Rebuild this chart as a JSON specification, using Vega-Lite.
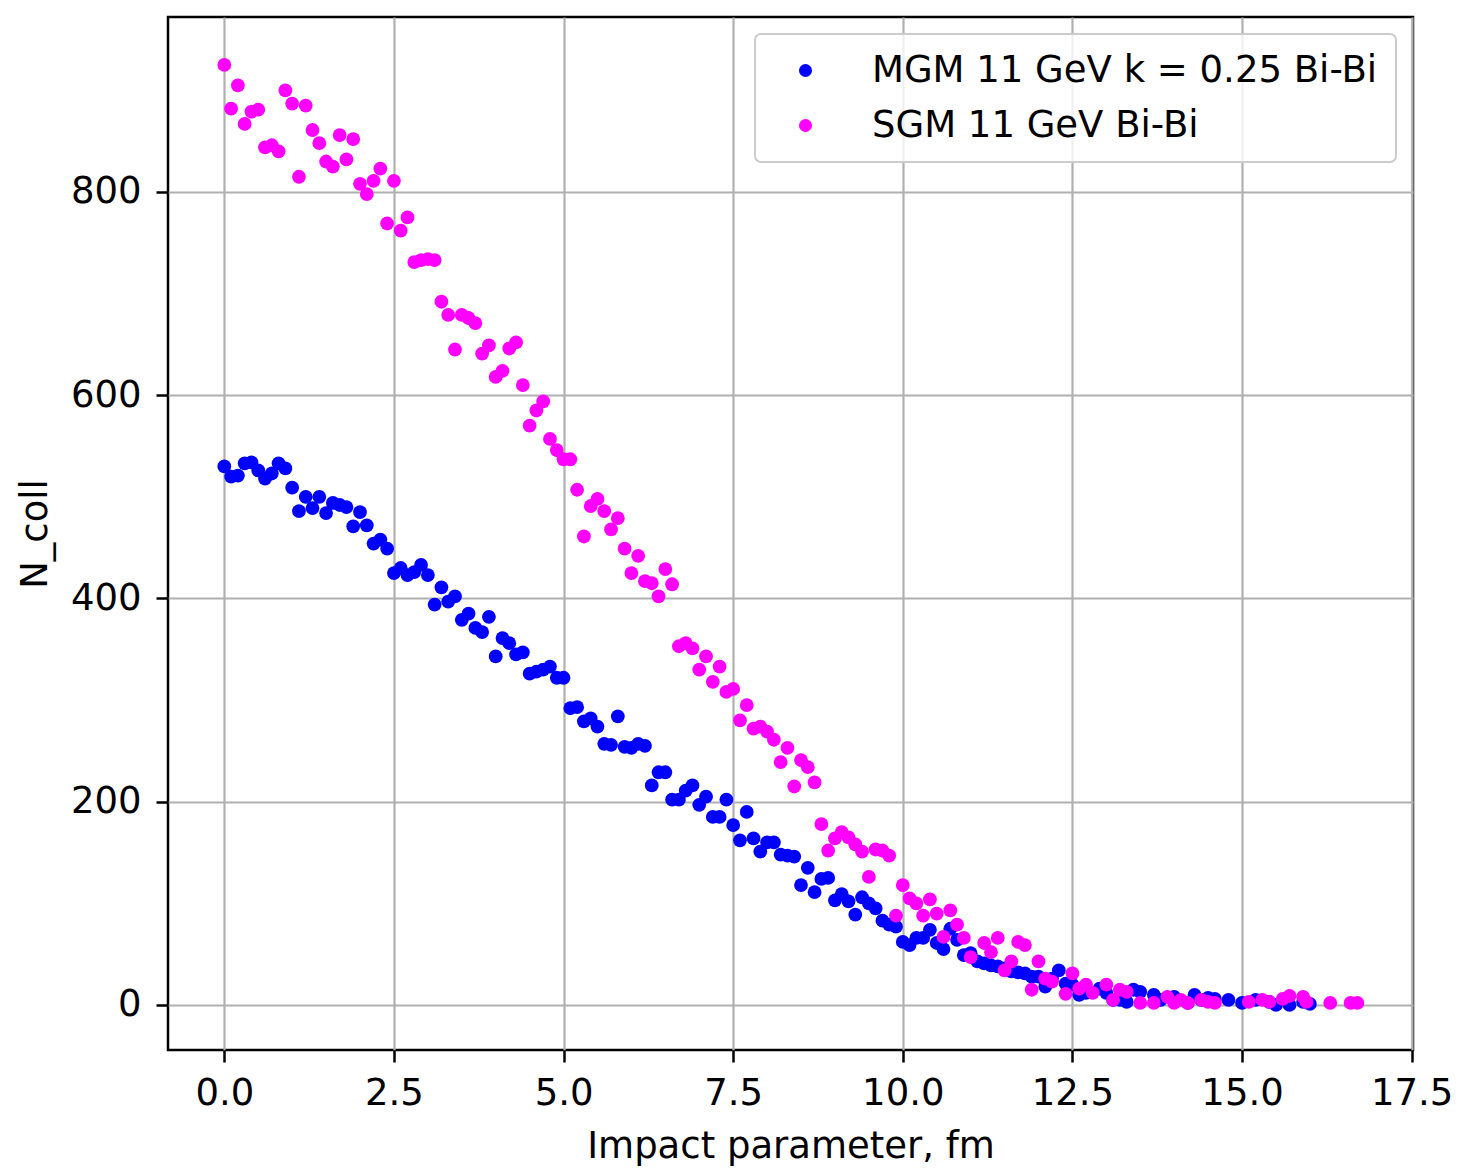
{
  "$schema": "https://vega.github.io/schema/vega-lite/v6.json",
  "width": 1245,
  "height": 1033,
  "autosize": {"type": "none"},
  "padding": {"left": 168, "top": 17, "right": 50, "bottom": 122},
  "background": "white",
  "datasets": {
    "mgm": [
      {"b":0.0,"n":530},{"b":0.1,"n":520},{"b":0.2,"n":521},{"b":0.3,"n":533},{"b":0.4,"n":534},{"b":0.5,"n":526},{"b":0.6,"n":518},{"b":0.7,"n":523},{"b":0.8,"n":533},{"b":0.9,"n":528},
      {"b":1.0,"n":509},{"b":1.1,"n":486},{"b":1.2,"n":500},{"b":1.3,"n":489},{"b":1.4,"n":500},{"b":1.5,"n":484},{"b":1.6,"n":494},{"b":1.7,"n":492},{"b":1.8,"n":490},{"b":1.9,"n":471},
      {"b":2.0,"n":485},{"b":2.1,"n":472},{"b":2.2,"n":454},{"b":2.3,"n":458},{"b":2.4,"n":449},{"b":2.5,"n":425},{"b":2.6,"n":430},{"b":2.7,"n":423},{"b":2.8,"n":426},{"b":2.9,"n":433},
      {"b":3.0,"n":423},{"b":3.1,"n":394},{"b":3.2,"n":411},{"b":3.3,"n":397},{"b":3.4,"n":402},{"b":3.5,"n":379},{"b":3.6,"n":385},{"b":3.7,"n":371},{"b":3.8,"n":367},{"b":3.9,"n":382},
      {"b":4.0,"n":343},{"b":4.1,"n":361},{"b":4.2,"n":356},{"b":4.3,"n":345},{"b":4.4,"n":347},{"b":4.5,"n":326},{"b":4.6,"n":328},{"b":4.7,"n":330},{"b":4.8,"n":333},{"b":4.9,"n":322},
      {"b":5.0,"n":322},{"b":5.1,"n":292},{"b":5.2,"n":293},{"b":5.3,"n":279},{"b":5.4,"n":282},{"b":5.5,"n":274},{"b":5.6,"n":257},{"b":5.7,"n":256},{"b":5.8,"n":284},{"b":5.9,"n":254},
      {"b":6.0,"n":253},{"b":6.1,"n":257},{"b":6.2,"n":255},{"b":6.3,"n":216},{"b":6.4,"n":229},{"b":6.5,"n":229},{"b":6.6,"n":202},{"b":6.7,"n":202},{"b":6.8,"n":211},{"b":6.9,"n":216},
      {"b":7.0,"n":197},{"b":7.1,"n":205},{"b":7.2,"n":185},{"b":7.3,"n":185},{"b":7.4,"n":202},{"b":7.5,"n":177},{"b":7.6,"n":162},{"b":7.7,"n":190},{"b":7.8,"n":164},{"b":7.9,"n":151},
      {"b":8.0,"n":160},{"b":8.1,"n":160},{"b":8.2,"n":148},{"b":8.3,"n":147},{"b":8.4,"n":146},{"b":8.5,"n":118},{"b":8.6,"n":135},{"b":8.7,"n":111},{"b":8.8,"n":124},{"b":8.9,"n":125},
      {"b":9.0,"n":103},{"b":9.1,"n":109},{"b":9.2,"n":102},{"b":9.3,"n":89},{"b":9.4,"n":106},{"b":9.5,"n":100},{"b":9.6,"n":95},{"b":9.7,"n":83},{"b":9.8,"n":79},{"b":9.9,"n":77},
      {"b":10.0,"n":62},{"b":10.1,"n":59},{"b":10.2,"n":66},{"b":10.3,"n":66},{"b":10.4,"n":74},{"b":10.5,"n":61},{"b":10.6,"n":55},{"b":10.7,"n":75},{"b":10.8,"n":64},{"b":10.9,"n":49},
      {"b":11.0,"n":51},{"b":11.1,"n":43},{"b":11.2,"n":41},{"b":11.3,"n":39},{"b":11.4,"n":38},{"b":11.5,"n":36},{"b":11.6,"n":33},{"b":11.7,"n":32},{"b":11.8,"n":31},{"b":11.9,"n":28},
      {"b":12.0,"n":28},{"b":12.1,"n":18},{"b":12.2,"n":26},{"b":12.3,"n":34},{"b":12.4,"n":21},{"b":12.5,"n":20},{"b":12.6,"n":10},{"b":12.7,"n":12},{"b":12.9,"n":16},
      {"b":13.0,"n":12},{"b":13.1,"n":5},{"b":13.2,"n":5},{"b":13.3,"n":3},{"b":13.4,"n":15},{"b":13.5,"n":13},{"b":13.7,"n":10},{"b":13.8,"n":5},
      {"b":14.0,"n":8},{"b":14.2,"n":2},{"b":14.3,"n":10},{"b":14.4,"n":5},{"b":14.5,"n":7},{"b":14.6,"n":6},{"b":14.8,"n":5},
      {"b":15.0,"n":2},{"b":15.2,"n":5},{"b":15.4,"n":3},{"b":15.5,"n":0},{"b":15.7,"n":0},{"b":15.9,"n":3},{"b":16.0,"n":1}
    ],
    "sgm": [
      {"b":0.0,"n":925},{"b":0.1,"n":882},{"b":0.2,"n":905},{"b":0.3,"n":867},{"b":0.4,"n":879},{"b":0.5,"n":881},{"b":0.6,"n":844},{"b":0.7,"n":846},{"b":0.8,"n":840},{"b":0.9,"n":900},
      {"b":1.0,"n":887},{"b":1.1,"n":815},{"b":1.2,"n":885},{"b":1.3,"n":861},{"b":1.4,"n":848},{"b":1.5,"n":830},{"b":1.6,"n":825},{"b":1.7,"n":856},{"b":1.8,"n":832},{"b":1.9,"n":852},
      {"b":2.0,"n":808},{"b":2.1,"n":798},{"b":2.2,"n":811},{"b":2.3,"n":823},{"b":2.4,"n":769},{"b":2.5,"n":811},{"b":2.6,"n":762},{"b":2.7,"n":775},{"b":2.8,"n":731},{"b":2.9,"n":733},
      {"b":3.0,"n":734},{"b":3.1,"n":733},{"b":3.2,"n":692},{"b":3.3,"n":679},{"b":3.4,"n":645},{"b":3.5,"n":679},{"b":3.6,"n":676},{"b":3.7,"n":671},{"b":3.8,"n":641},{"b":3.9,"n":649},
      {"b":4.0,"n":618},{"b":4.1,"n":624},{"b":4.2,"n":646},{"b":4.3,"n":652},{"b":4.4,"n":610},{"b":4.5,"n":570},{"b":4.6,"n":585},{"b":4.7,"n":594},{"b":4.8,"n":557},{"b":4.9,"n":546},
      {"b":5.0,"n":537},{"b":5.1,"n":537},{"b":5.2,"n":507},{"b":5.3,"n":461},{"b":5.4,"n":491},{"b":5.5,"n":498},{"b":5.6,"n":486},{"b":5.7,"n":468},{"b":5.8,"n":479},{"b":5.9,"n":449},
      {"b":6.0,"n":425},{"b":6.1,"n":442},{"b":6.2,"n":417},{"b":6.3,"n":415},{"b":6.4,"n":402},{"b":6.5,"n":429},{"b":6.6,"n":414},{"b":6.7,"n":353},{"b":6.8,"n":356},{"b":6.9,"n":351},
      {"b":7.0,"n":330},{"b":7.1,"n":343},{"b":7.2,"n":318},{"b":7.3,"n":333},{"b":7.4,"n":308},{"b":7.5,"n":311},{"b":7.6,"n":280},{"b":7.7,"n":295},{"b":7.8,"n":272},{"b":7.9,"n":274},
      {"b":8.0,"n":269},{"b":8.1,"n":261},{"b":8.2,"n":239},{"b":8.3,"n":253},{"b":8.4,"n":215},{"b":8.5,"n":241},{"b":8.6,"n":234},{"b":8.7,"n":219},{"b":8.8,"n":178},{"b":8.9,"n":152},
      {"b":9.0,"n":164},{"b":9.1,"n":170},{"b":9.2,"n":165},{"b":9.3,"n":158},{"b":9.4,"n":151},{"b":9.5,"n":126},{"b":9.6,"n":153},{"b":9.7,"n":152},{"b":9.8,"n":147},{"b":9.9,"n":88},
      {"b":10.0,"n":118},{"b":10.1,"n":105},{"b":10.2,"n":100},{"b":10.3,"n":88},{"b":10.4,"n":104},{"b":10.5,"n":90},{"b":10.6,"n":67},{"b":10.7,"n":93},{"b":10.8,"n":79},{"b":10.9,"n":66},
      {"b":11.0,"n":47},{"b":11.2,"n":61},{"b":11.3,"n":52},{"b":11.4,"n":66},{"b":11.5,"n":34},{"b":11.6,"n":43},{"b":11.7,"n":62},{"b":11.8,"n":59},{"b":11.9,"n":15},
      {"b":12.0,"n":43},{"b":12.1,"n":26},{"b":12.2,"n":23},{"b":12.4,"n":11},{"b":12.5,"n":31},{"b":12.6,"n":16},{"b":12.7,"n":20},{"b":12.8,"n":12},
      {"b":13.0,"n":20},{"b":13.1,"n":5},{"b":13.2,"n":15},{"b":13.3,"n":13},{"b":13.5,"n":2},{"b":13.7,"n":2},{"b":13.9,"n":8},
      {"b":14.0,"n":2},{"b":14.1,"n":5},{"b":14.2,"n":2},{"b":14.4,"n":5},{"b":14.5,"n":3},{"b":14.6,"n":2},
      {"b":15.1,"n":3},{"b":15.3,"n":5},{"b":15.4,"n":3},{"b":15.6,"n":6},{"b":15.7,"n":9},{"b":15.9,"n":8},{"b":15.95,"n":3},
      {"b":16.3,"n":2},{"b":16.6,"n":2},{"b":16.7,"n":2}
    ]
  },
  "encoding": {
    "x": {
      "field": "b", "type": "quantitative",
      "scale": {"domain": [-0.83, 17.52], "nice": false, "zero": false},
      "axis": {"values": [0, 2.5, 5, 7.5, 10, 12.5, 15, 17.5], "format": ".1f", "title": "Impact parameter, fm", "labelPadding": 13, "titlePadding": 17}
    },
    "y": {
      "field": "n", "type": "quantitative",
      "scale": {"domain": [-44.3, 972.2], "nice": false, "zero": false},
      "axis": {"values": [0, 200, 400, 600, 800], "format": "d", "title": "N_coll", "labelPadding": 15, "titlePadding": 16}
    }
  },
  "layer": [
    {
      "data": {"name": "mgm"},
      "mark": {"type": "circle", "size": 190, "opacity": 1},
      "encoding": {"color": {"datum": "MGM 11 GeV k = 0.25 Bi-Bi"}}
    },
    {
      "data": {"name": "sgm"},
      "mark": {"type": "circle", "size": 190, "opacity": 1},
      "encoding": {"color": {"datum": "SGM 11 GeV Bi-Bi"}}
    }
  ],
  "resolve": {"scale": {"color": "shared"}},
  "config": {
    "font": "DejaVu Sans",
    "view": {"stroke": "black", "strokeWidth": 2.5},
    "range": {"category": ["#0000ff", "#ff00ff"]},
    "axis": {
      "domain": false,
      "labelFontSize": 37, "titleFontSize": 37, "titleFontWeight": "normal",
      "labelColor": "black", "titleColor": "black",
      "tickColor": "black", "tickWidth": 2.5, "tickSize": 12,
      "gridColor": "#b0b0b0", "gridWidth": 2.2, "gridOpacity": 1
    },
    "legend": {
      "orient": "none", "legendX": 587, "legendY": 17,
      "title": null,
      "labelFontSize": 37, "labelColor": "black",
      "symbolType": "circle", "symbolSize": 170, "symbolStrokeWidth": 0, "symbolOpacity": 1,
      "padding": 18, "symbolOffset": 14, "labelOffset": 48, "rowPadding": 17,
      "fillColor": "rgba(255,255,255,0.8)", "strokeColor": "#cccccc", "strokeWidth": 2, "cornerRadius": 6,
      "labelLimit": 800
    }
  }
}
